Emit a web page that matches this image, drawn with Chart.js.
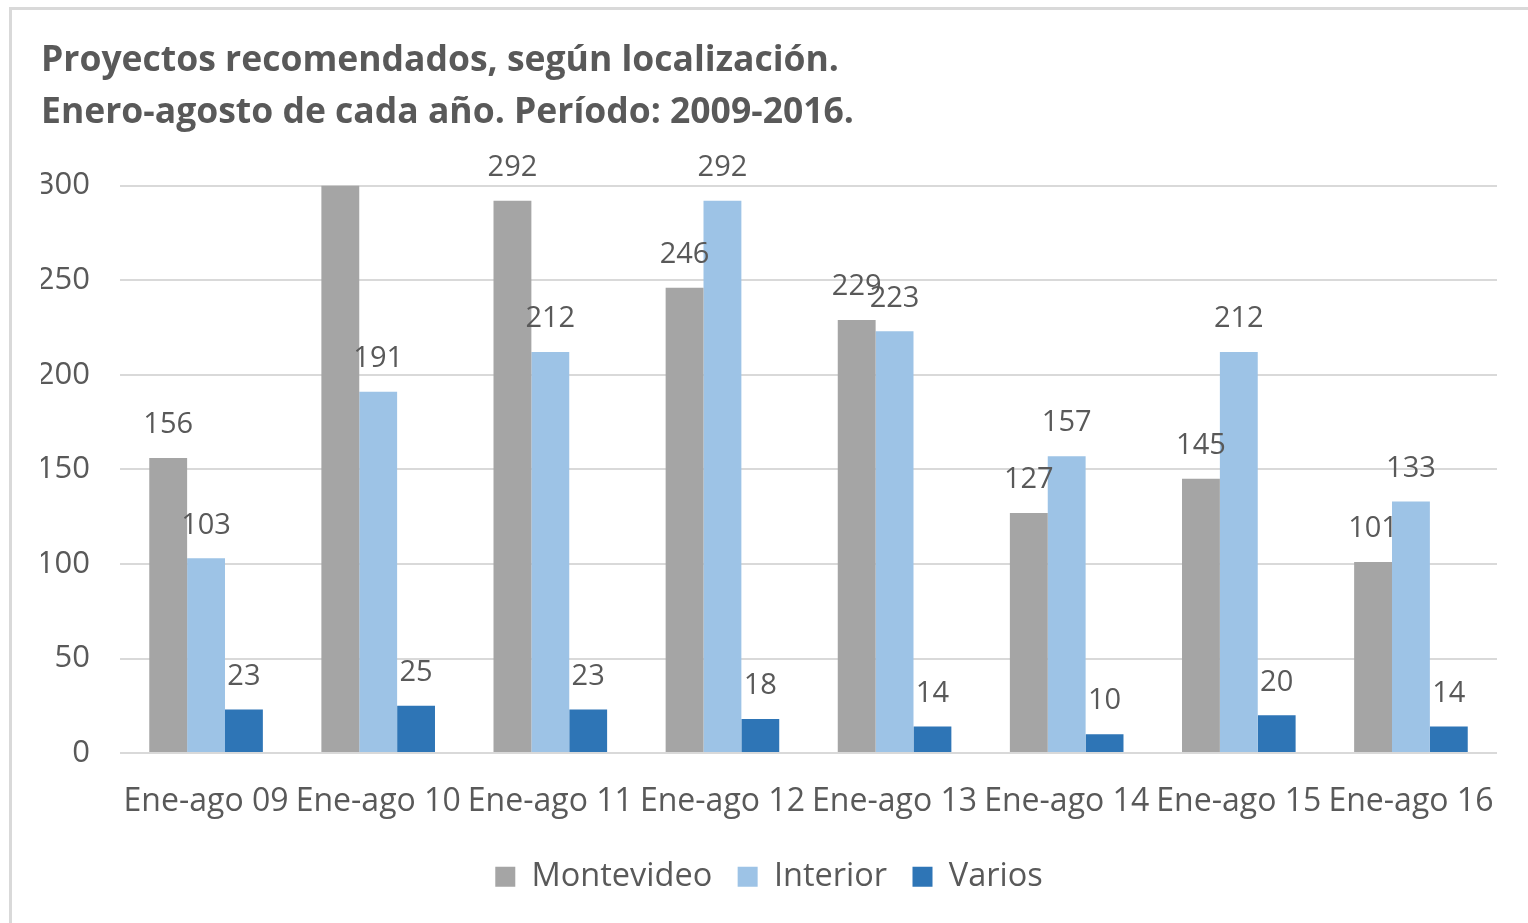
<!DOCTYPE html>
<html>
<head>
<meta charset="utf-8">
<script src="https://cdn.jsdelivr.net/npm/chart.js@4.4.0/dist/chart.umd.min.js"></script>
<style>
    body { margin: 0; background: #fff; overflow: hidden; }
    #wrap { position: relative; width: 1528px; height: 923px; }
    #frame { position: absolute; left: 9px; top: 7px; width: 1600px; height: 1000px; border: 3px solid #d9d9d9; }
    #chart { position: absolute; left: 0; top: 0; }
</style>
</head>
<body>
<div id="wrap">
    <div id="frame"></div>
    <canvas id="chart" width="1528" height="923"></canvas>
</div>
<script>
// Data
const categories = ['Ene-ago 09', 'Ene-ago 10', 'Ene-ago 11', 'Ene-ago 12', 'Ene-ago 13', 'Ene-ago 14', 'Ene-ago 15', 'Ene-ago 16'];
// 2010 Montevideo bar runs past the top of the axis, its label is hidden
const montevideo = [156, 318, 292, 246, 229, 127, 145, 101];
const interior = [103, 191, 212, 292, 223, 157, 212, 133];
const varios = [23, 25, 23, 18, 14, 10, 20, 14];
const yTicks = [0, 50, 100, 150, 200, 250, 300];

const textColor = '#595959';
const fontFamily = "'Open Sans', sans-serif";

// Value labels above each bar (skipped when the bar is cut off by the axis max)
const barLabels = {
    id: 'barLabels',
    afterDatasetsDraw(chart) {
        const ctx = chart.ctx;
        const yScale = chart.scales.y;
        ctx.save();
        ctx.font = '29px ' + fontFamily;
        ctx.fillStyle = textColor;
        ctx.textAlign = 'center';
        ctx.textBaseline = 'middle';
        chart.data.datasets.forEach((ds, i) => {
            const meta = chart.getDatasetMeta(i);
            meta.data.forEach((bar, j) => {
                const v = ds.data[j];
                if (v > yScale.max) return;
                ctx.fillText(String(v), bar.x, bar.y - 33);
            });
        });
        ctx.restore();
    }
};

new Chart(document.getElementById('chart'), {
    type: 'bar',
    data: {
        labels: categories,
        datasets: [
            { label: 'Montevideo', data: montevideo, backgroundColor: '#a5a5a5' },
            { label: 'Interior', data: interior, backgroundColor: '#9dc3e6' },
            { label: 'Varios', data: varios, backgroundColor: '#2e75b6' }
        ]
    },
    options: {
        responsive: false,
        animation: false,
        devicePixelRatio: 1,
        categoryPercentage: 0.66,
        barPercentage: 1,
        layout: {
            padding: { left: 41, right: 31, top: 35, bottom: 20 }
        },
        plugins: {
            title: {
                display: true,
                text: ['Proyectos recomendados, según localización.', 'Enero-agosto de cada año. Período: 2009-2016.'],
                align: 'start',
                color: textColor,
                font: { family: fontFamily, size: 35.5, weight: 'bold', lineHeight: 1.46 },
                padding: { top: 0, bottom: 47 }
            },
            legend: {
                position: 'bottom',
                labels: {
                    color: textColor,
                    font: { family: fontFamily, size: 32.5 },
                    boxWidth: 20,
                    boxHeight: 20,
                    padding: 17,
                    // a little extra room between the legend entries
                    generateLabels: function(chart) {
                        const items = Chart.defaults.plugins.legend.labels.generateLabels(chart);
                        items.forEach((item, i) => {
                            if (i < items.length - 1) item.text = item.text + ' ';
                        });
                        return items;
                    }
                }
            },
            tooltip: { enabled: false }
        },
        scales: {
            y: {
                min: 0,
                max: 300,
                afterBuildTicks: function(scale) {
                    scale.ticks = yTicks.map(v => ({ value: v }));
                },
                afterFit: function(scale) {
                    scale.width = 79;
                },
                border: { display: false },
                grid: { color: '#d9d9d9', lineWidth: 2, drawTicks: false },
                ticks: {
                    color: textColor,
                    font: { family: fontFamily, size: 31 },
                    padding: 30
                }
            },
            x: {
                border: { display: false },
                grid: { display: false },
                ticks: {
                    color: textColor,
                    font: { family: fontFamily, size: 32 },
                    padding: 22,
                    maxRotation: 0,
                    autoSkip: false
                }
            }
        }
    },
    plugins: [barLabels]
});
</script>
</body>
</html>
